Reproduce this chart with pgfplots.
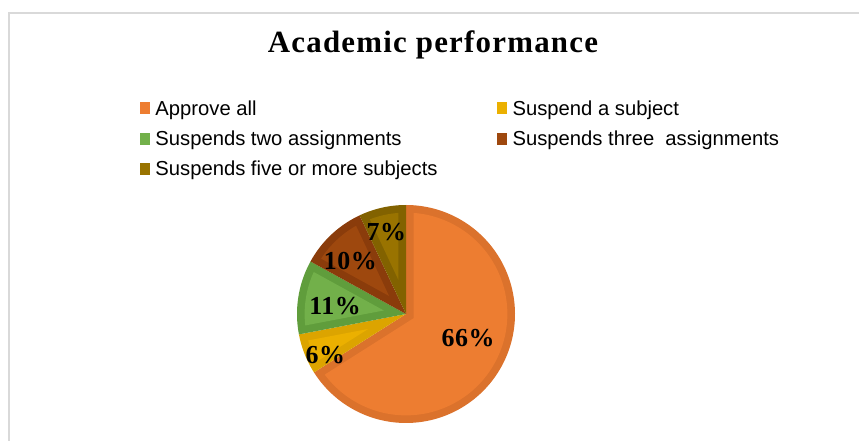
\documentclass[border=0pt]{standalone}
\usepackage{pgfplots}
\pgfplotsset{compat=1.18}
\usepackage{fontspec}
\setmainfont{Liberation Serif}
\newfontfamily\arial{Liberation Sans}
\definecolor{cA}{HTML}{ED7D31}\definecolor{cAd}{HTML}{DB722C}
\definecolor{cB}{HTML}{EBB000}\definecolor{cBd}{HTML}{DCA400}
\definecolor{cC}{HTML}{72B04A}\definecolor{cCd}{HTML}{609D3C}
\definecolor{cD}{HTML}{9E480E}\definecolor{cDd}{HTML}{8A3C0B}
\definecolor{cE}{HTML}{997300}\definecolor{cEd}{HTML}{826200}
\definecolor{frame}{HTML}{D9D9D9}
\def\ins{0.07}
% slice: #1 start (cumulative %), #2 end (cumulative %), #3 main colour, #4 edge colour
\newcommand\slice[4]{%
\addplot[fill=#4,draw=none,domain=#1:#2,samples=120,forget plot]
  ({cos(90-3.6*x)},{sin(90-3.6*x)}) -- (axis cs:0,0) -- cycle;
\addplot[fill=#3,draw=none,domain=#1+1.2:#2-1.2,samples=120,forget plot]
  ({(1-\ins)*cos(90-3.6*x)},{(1-\ins)*sin(90-3.6*x)})
  -- (axis cs:{\ins/sin(1.8*(#2-#1))*cos(90-1.8*(#1+#2))},{\ins/sin(1.8*(#2-#1))*sin(90-1.8*(#1+#2))}) -- cycle;
}
\begin{document}
\begin{tikzpicture}
\draw[frame,line width=1.5bp] (9bp,0bp) -- (9bp,428bp) -- (859bp,428bp);
\node[font=\bfseries\fontsize{31}{31}\selectfont\addfontfeature{LetterSpace=4}] at (433bp,396bp) {Academic performance};
\begin{axis}[
  at={(406bp,127bp)}, anchor=center,
  x=109bp, y=109bp,
  xmin=-1, xmax=1, ymin=-1, ymax=1,
  hide axis,
  clip=false,
  legend columns=2,
  legend cell align=left,
  legend image code/.code={\fill[#1,draw=none] (0bp,-6bp) rectangle (10bp,6bp); \path (13bp,0bp);},
  legend style={draw=none, fill=none, font=\arial\fontsize{20.3}{22}\selectfont,
    at={(-0.72,1.49)}, anchor=north west, row sep=10.2bp, inner sep=0pt,
    /tikz/every odd column/.append style={column sep=0bp}},
]
\slice{0}{66}{cA}{cAd}
\slice{66}{72}{cB}{cBd}
\slice{72}{83}{cC}{cCd}
\slice{83}{93}{cD}{cDd}
\slice{93}{100}{cE}{cEd}
\addlegendimage{fill=cA}
\addlegendentry{\makebox[340bp][l]{Approve all}}
\addlegendimage{fill=cB}
\addlegendentry{Suspend a subject}
\addlegendimage{fill=cC}
\addlegendentry{\makebox[340bp][l]{Suspends two assignments}}
\addlegendimage{fill=cD}
\addlegendentry{Suspends three\ \ assignments}
\addlegendimage{fill=cE}
\addlegendentry{\makebox[340bp][l]{Suspends five or more subjects}}
\addplot[forget plot, only marks, mark=none, nodes near coords, point meta=explicit symbolic,
  nodes near coords style={anchor=center, text=black, font=\bfseries\fontsize{26}{26}\selectfont\addfontfeature{LetterSpace=2}}]
  coordinates {(0.57,-0.22) [66\%] (-0.74,-0.38) [6\%] (-0.65,0.07) [11\%] (-0.51,0.49) [10\%] (-0.18,0.75) [7\%]};
\end{axis}
\pgfresetboundingbox
\useasboundingbox (0bp,0bp) rectangle (859bp,441bp);
\end{tikzpicture}
\end{document}
